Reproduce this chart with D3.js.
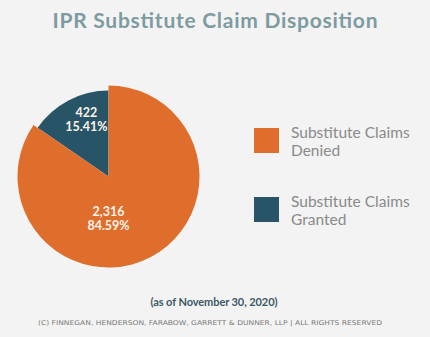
<!DOCTYPE html>
<html><head><meta charset="utf-8">
<script src="https://cdn.jsdelivr.net/npm/d3@7"></script>
<style>html,body{margin:0;padding:0;background:#f3f3f3;}svg{display:block;}</style>
</head><body>
<svg id="c" width="430" height="337"></svg>
<script>
const categories = ["Substitute Claims Granted", "Substitute Claims Denied"];
const values = [422, 2316];
const valueLabels = ["422", "2,316"];
const percentLabels = ["15.41%", "84.59%"];
const legendOrder = ["Substitute Claims Denied", "Substitute Claims Granted"];
const legendLines = [["Substitute Claims", "Denied"], ["Substitute Claims", "Granted"]];

const svg = d3.select("#c");
const W = 430, H = 337;
svg.append("rect").attr("width", W).attr("height", H).attr("fill", "#f3f3f3");

const color = d3.scaleOrdinal().domain(categories).range(["#285468", "#df6e2c"]);

svg.append("text").attr("x", 215).attr("y", 28).attr("text-anchor", "middle")
  .attr("font-family", "Lato, 'Open Sans', sans-serif").attr("font-weight", 700)
  .attr("font-size", 21).attr("fill", "#7d9ba1").attr("textLength", 325)
  .text("IPR Substitute Claim Disposition");

const cx = 108.5, cy = 176.5;
const radii = {"Substitute Claims Granted": 86, "Substitute Claims Denied": 91};
const frac0 = values[0] / d3.sum(values);
const pie = d3.pie().sort(null).value(d => d.v)
  .startAngle(-2 * Math.PI * frac0).endAngle(2 * Math.PI - 2 * Math.PI * frac0);
const data = categories.map((c, i) => ({c, v: values[i], vl: valueLabels[i], pl: percentLabels[i]}));
const arcs = pie(data);
const g = svg.append("g").attr("transform", `translate(${cx},${cy})`);
g.selectAll("path").data(arcs).join("path")
  .attr("d", d => d3.arc().innerRadius(0).outerRadius(radii[d.data.c])(d))
  .attr("fill", d => color(d.data.c));

// label placement: granted label near its wedge centre, denied label below the centre
const labelPos = {
  "Substitute Claims Granted": d => { const a = (d.startAngle + d.endAngle) / 2 + 0.12; return [Math.sin(a) * 62, -Math.cos(a) * 62]; },
  "Substitute Claims Denied": d => [0, 41]
};
arcs.forEach(d => {
  const [x, y] = labelPos[d.data.c](d);
  const mk = (yy, txt) => g.append("text").attr("text-anchor", "middle")
    .attr("x", x).attr("y", yy)
    .attr("font-family", "Lato, 'Open Sans', sans-serif").attr("font-weight", 700)
    .attr("font-size", 12.5).attr("fill", "#fbf3ea").text(txt);
  mk(y - 2, d.data.vl);
  mk(y + 12, d.data.pl);
});

const leg = svg.append("g");
legendOrder.forEach((c, i) => {
  const y0 = 128 + i * 69;
  leg.append("rect").attr("x", 254).attr("y", y0).attr("width", 25).attr("height", 25).attr("fill", color(c));
  const mk = (yy, txt) => leg.append("text").attr("x", 291).attr("y", yy)
    .attr("font-family", "Lato, 'Open Sans', sans-serif")
    .attr("font-size", 15.5).attr("fill", "#8a8a8a").text(txt);
  mk(y0 + 10, legendLines[i][0]);
  mk(y0 + 28, legendLines[i][1]);
});

svg.append("text").attr("x", 214).attr("y", 306).attr("text-anchor", "middle")
  .attr("font-family", "Lato, 'Open Sans', sans-serif").attr("font-weight", 700)
  .attr("font-size", 11).attr("fill", "#3b5866").attr("textLength", 127)
  .text("(as of November 30, 2020)");

svg.append("text").attr("x", 210).attr("y", 325).attr("text-anchor", "middle")
  .attr("font-family", "'DejaVu Sans', sans-serif")
  .attr("font-size", 6.5).attr("fill", "#7a7a7a").attr("textLength", 344)
  .attr("lengthAdjust", "spacingAndGlyphs")
  .text("(C) FINNEGAN, HENDERSON, FARABOW, GARRETT & DUNNER, LLP | ALL RIGHTS RESERVED");
</script>
</body></html>
